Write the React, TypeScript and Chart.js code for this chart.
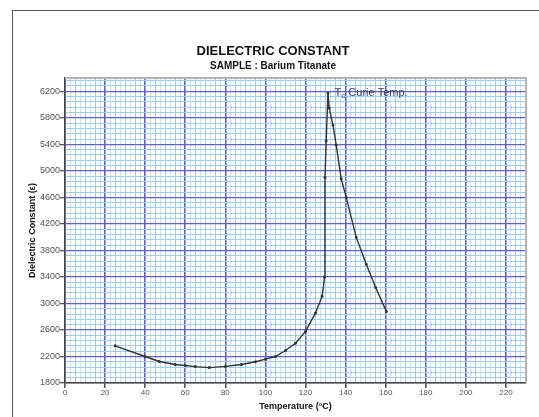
import React, { useEffect, useRef } from 'react';
import { Chart, registerables } from 'chart.js';

Chart.register(...registerables);

// ---- data ----
const temperatures = [25, 40, 47, 55, 60, 65, 72, 80, 88, 95, 100, 105, 110, 115, 120, 125, 128.3, 129.5, 129.7, 130.3, 131.2, 131.8, 133.7, 135.3, 137.8, 140.3, 145.3, 150.3, 155, 160.3];
const dielectric = [2360, 2200, 2125, 2080, 2063, 2047, 2032, 2050, 2080, 2120, 2160, 2200, 2290, 2400, 2578, 2857, 3110, 3400, 4900, 5450, 6170, 5950, 5690, 5390, 4880, 4600, 4000, 3590, 3240, 2880];

const xMin = 0;
const xMax = 230;
const xMajorStep = 20;
const xMidStep = 5;
const xMinorStep = 2.5;

const yMin = 1800;
const yMax = 6400;
const yMajorStep = 400;
const yMinorStep = 80;

const titleText = 'DIELECTRIC CONSTANT';
const subtitleText = 'SAMPLE : Barium Titanate';
const xTitle = 'Temperature (\u00B0C)';
const yTitle = 'Dielectric Constant (\u03B5)';

const annotationT = 134.5;
const annotationV = 6180;

const FONT = "'Liberation Sans', Arial, sans-serif";
const MAJOR = 'rgb(98, 98, 196)';
const MID = 'rgb(160, 205, 238)';
const MINOR = 'rgb(196, 228, 246)';

function buildTicks(min: number, max: number, step: number) {
  const out: { value: number }[] = [];
  const n = Math.floor((max - min) / step + 1e-9);
  for (let i = 0; i <= n; i++) out.push({ value: Math.round((min + i * step) * 1000) / 1000 });
  return out;
}
const isMajor = (v: number, base: number, step: number) => Math.abs(((v - base) / step) - Math.round((v - base) / step)) < 1e-6;

export default function App() {
  const ref = useRef<HTMLCanvasElement | null>(null);

  useEffect(() => {
    if (!ref.current) return;
    Chart.defaults.font.family = FONT;

    const framePlugin = {
      id: 'frame',
      beforeDraw(chart: any) {
        const ctx = chart.ctx;
        ctx.save();
        ctx.fillStyle = '#ffffff';
        ctx.fillRect(0, 0, chart.width, chart.height);
        ctx.strokeStyle = '#555555';
        ctx.lineWidth = 1;
        ctx.strokeRect(12.5, 10.5, 800, 800);
        ctx.restore();
      },
      beforeDatasetsDraw(chart: any) {
        const { ctx, chartArea } = chart;
        ctx.save();
        ctx.strokeStyle = '#b4b4b4';
        ctx.lineWidth = 2;
        ctx.beginPath();
        ctx.moveTo(chartArea.left, chartArea.top);
        ctx.lineTo(chartArea.right, chartArea.top);
        ctx.lineTo(chartArea.right, chartArea.bottom);
        ctx.stroke();
        ctx.restore();
      },
      afterDatasetsDraw(chart: any) {
        const ctx = chart.ctx;
        const x = chart.scales.x.getPixelForValue(annotationT);
        const y = chart.scales.y.getPixelForValue(annotationV);
        ctx.save();
        ctx.fillStyle = '#3a4468';
        ctx.textBaseline = 'middle';
        ctx.textAlign = 'left';
        ctx.font = `11px ${FONT}`;
        ctx.fillText('T', x, y);
        const wT = ctx.measureText('T').width;
        ctx.font = `8px ${FONT}`;
        ctx.fillText('c', x + wT, y + 3);
        const wc = ctx.measureText('c').width;
        ctx.font = `11px ${FONT}`;
        ctx.fillText(' Curie Temp.', x + wT + wc, y);
        ctx.restore();
      },
    };

    const xColor = (v: number) => (isMajor(v, xMin, xMajorStep) ? MAJOR : isMajor(v, xMin, xMidStep) ? MID : MINOR);

    const chart = new Chart(ref.current, {
      type: 'line',
      data: {
        datasets: [
          {
            data: temperatures.map((t, i) => ({ x: t, y: dielectric[i] })),
            borderColor: '#333333',
            backgroundColor: '#333333',
            borderWidth: 1.4,
            pointRadius: 0.8,
            pointHoverRadius: 0.8,
            tension: 0,
            fill: false,
          },
        ],
      },
      options: {
        responsive: false,
        animation: false,
        events: [],
        layout: { padding: { left: 20, right: 13, top: 0, bottom: 0 } },
        plugins: {
          legend: { display: false },
          tooltip: { enabled: false },
          title: {
            display: true,
            text: titleText,
            color: '#111111',
            font: { size: 13, weight: 'bold', family: FONT },
            padding: { top: 43.5, bottom: 0 },
          },
          subtitle: {
            display: true,
            text: subtitleText,
            color: '#111111',
            font: { size: 10, weight: 'bold', family: FONT },
            padding: { top: 1.2, bottom: 5.7 },
          },
        },
        scales: {
          x: {
            type: 'linear',
            min: xMin,
            max: xMax,
            afterBuildTicks: (s: any) => { s.ticks = buildTicks(xMin, xMax, xMinorStep); },
            afterFit: (s: any) => { s.height = 34; },
            ticks: {
              autoSkip: false,
              maxRotation: 0,
              padding: 0,
              color: '#555555',
              font: { size: 8, family: FONT },
              callback: (v: any) => (isMajor(Number(v), xMin, xMajorStep) ? String(v) : ''),
            },
            grid: {
              color: (c: any) => xColor(c.tick.value),
              lineWidth: (c: any) => (isMajor(c.tick.value, xMin, xMajorStep) ? 1.6 : 1),
              tickColor: (c: any) => (isMajor(c.tick.value, xMin, xMajorStep) ? '#555555' : 'rgba(0,0,0,0)'),
              tickLength: 5,
              drawTicks: true,
            },
            border: { color: '#444444', width: 1.5 },
            title: {
              display: true,
              text: xTitle,
              color: '#111111',
              font: { size: 9, weight: 'bold', family: FONT },
              padding: { top: 0, bottom: 4.6 },
            },
          },
          y: {
            type: 'linear',
            min: yMin,
            max: yMax,
            afterBuildTicks: (s: any) => { s.ticks = buildTicks(yMin, yMax, yMinorStep); },
            afterFit: (s: any) => { s.width = 45; },
            ticks: {
              autoSkip: false,
              padding: 0,
              color: '#555555',
              font: { size: 9, family: FONT },
              callback: (v: any) => (isMajor(Number(v), yMin, yMajorStep) ? String(v) : ''),
            },
            grid: {
              color: (c: any) => (isMajor(c.tick.value, yMin, yMajorStep) ? MAJOR : MID),
              lineWidth: (c: any) => (isMajor(c.tick.value, yMin, yMajorStep) ? 1.3 : 1),
              tickColor: (c: any) => (isMajor(c.tick.value, yMin, yMajorStep) ? '#555555' : 'rgba(0,0,0,0)'),
              tickLength: 5,
              drawTicks: true,
            },
            border: { color: '#444444', width: 1.5 },
            title: {
              display: true,
              text: yTitle,
              color: '#111111',
              font: { size: 9, weight: 'bold', family: FONT },
              padding: { top: 7.6, bottom: 0 },
            },
          },
        },
      },
      plugins: [framePlugin],
    } as any);

    return () => chart.destroy();
  }, []);

  return (
    <div style={{ position: 'fixed', left: 0, top: 0, width: 539, height: 417, background: '#fff' }}>
      <canvas ref={ref} width={539} height={417} style={{ display: 'block', width: 539, height: 417 }} />
    </div>
  );
}
